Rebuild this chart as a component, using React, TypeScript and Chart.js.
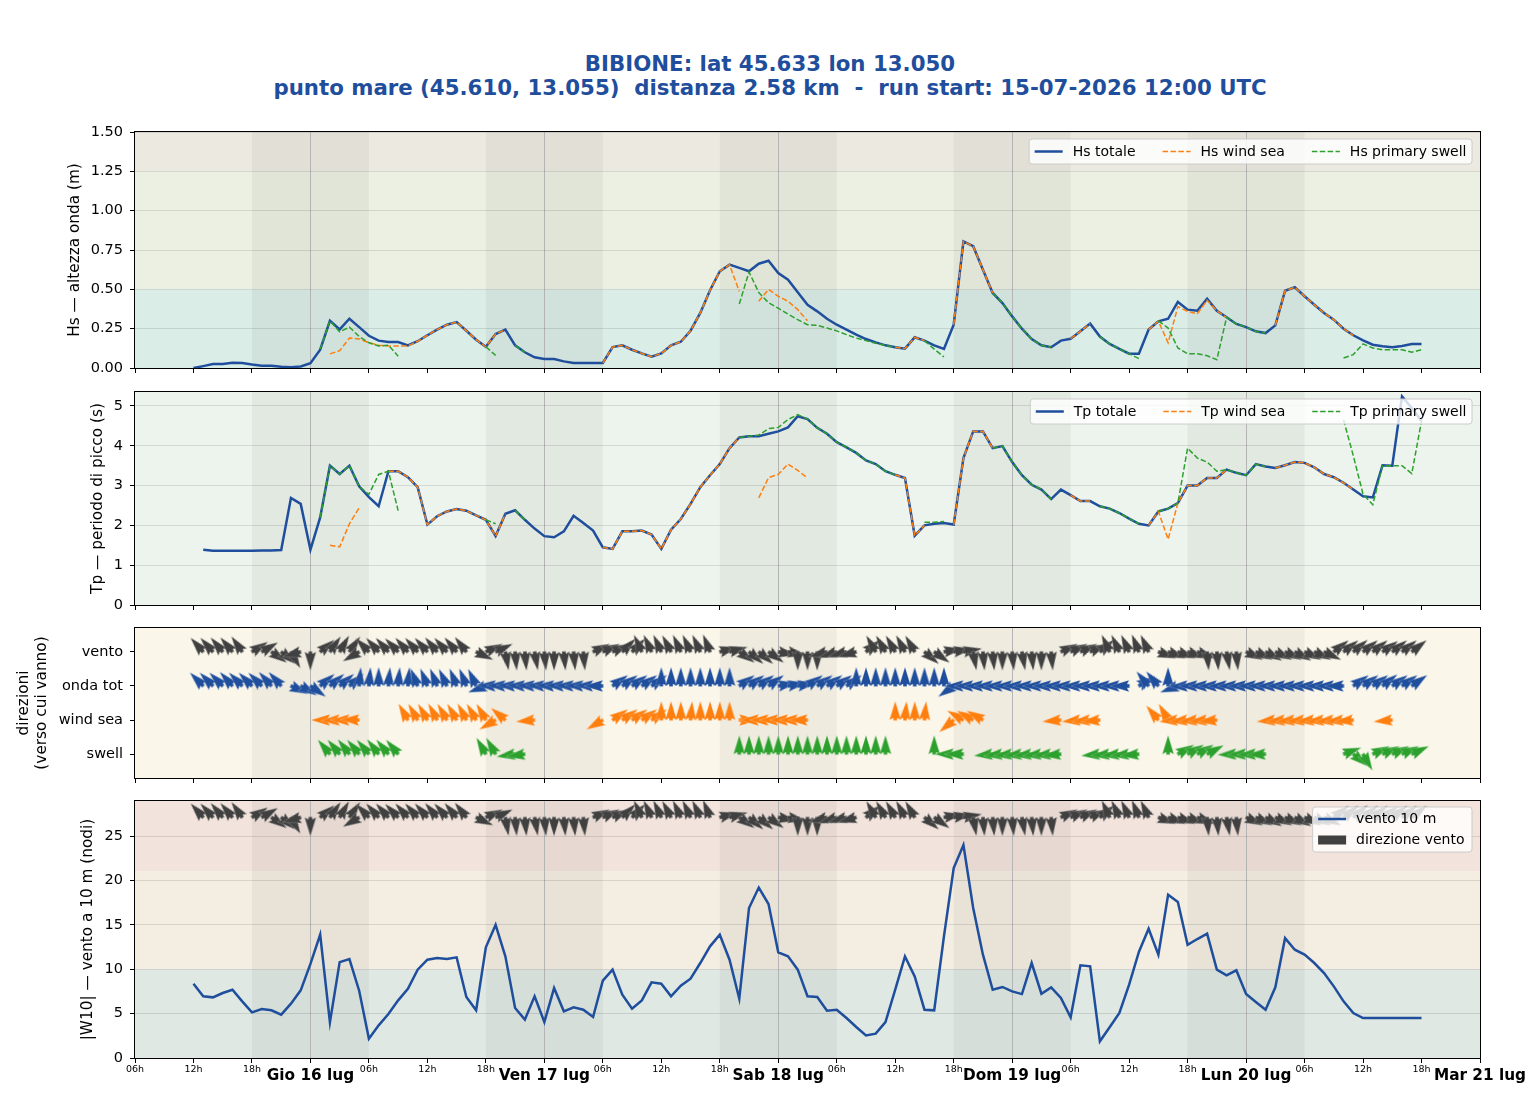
import React, { useEffect, useRef } from 'react';
import { Chart, registerables } from 'chart.js';

Chart.register(...registerables);

// ---------------------------------------------------------------------------
// Styling constants
// ---------------------------------------------------------------------------
const FONT = "'DejaVu Sans', 'Liberation Sans', sans-serif";
const BLUE = '#1f4e9c';
const ORANGE = '#ff7f0e';
const GREEN = '#2ca02c';
const DARK = '#404040';
const GRID = 'rgba(0,0,0,0.11)';
const MIDNIGHT = '#b4b4b4';
const NIGHT_SHADE = 'rgba(40,40,20,0.05)';

const _ = null;

// ---------------------------------------------------------------------------
// Time axis (hours counted from 15-07-2026 00:00 UTC), hourly run output
// ---------------------------------------------------------------------------
const FIRST_HOUR = 12; // first output step: 15-07 12:00 UTC
const X_MIN = 6;
const X_MAX = 144;
const TICK_HOURS = [6, 12, 18, 24, 30, 36, 42, 48, 54, 60, 66, 72, 78, 84, 90, 96, 102, 108, 114, 120, 126, 132, 138, 144];
const DAY_LABELS: Record<number, string> = {
  24: 'Gio 16 lug',
  48: 'Ven 17 lug',
  72: 'Sab 18 lug',
  96: 'Dom 19 lug',
  120: 'Lun 20 lug',
  144: 'Mar 21 lug',
};
const HOUR_LABELS: Record<number, string> = { 6: '06h', 12: '12h', 18: '18h' };
const NIGHTS: [number, number][] = [[18, 30], [42, 54], [66, 78], [90, 102], [114, 126]];

// ---------------------------------------------------------------------------
// Significant wave height (m)
// ---------------------------------------------------------------------------
const HS_TOTAL = [
  0.0, 0.012, 0.025, 0.025, 0.034, 0.032,
  0.022, 0.015, 0.015, 0.008, 0.005, 0.01,
  0.03, 0.116, 0.3, 0.245, 0.313, 0.26,
  0.205, 0.174, 0.165, 0.165, 0.144, 0.17,
  0.208, 0.244, 0.275, 0.292, 0.237, 0.18,
  0.135, 0.216, 0.244, 0.144, 0.1, 0.068,
  0.057, 0.057, 0.042, 0.032, 0.032, 0.032,
  0.032, 0.133, 0.144, 0.116, 0.093, 0.072,
  0.093, 0.144, 0.167, 0.237, 0.35, 0.494,
  0.615, 0.657, 0.636, 0.615, 0.663, 0.682,
  0.604, 0.561, 0.481, 0.402, 0.36, 0.313,
  0.275, 0.244, 0.212, 0.184, 0.163, 0.144,
  0.132, 0.123, 0.195, 0.174, 0.144, 0.121,
  0.275, 0.805, 0.774, 0.625, 0.477, 0.413,
  0.328, 0.25, 0.184, 0.144, 0.132, 0.174,
  0.186, 0.233, 0.282, 0.2, 0.153, 0.121,
  0.091, 0.091, 0.244, 0.297, 0.313, 0.42,
  0.371, 0.364, 0.44, 0.364, 0.322, 0.28,
  0.26, 0.233, 0.222, 0.271, 0.491, 0.513,
  0.456, 0.402, 0.35, 0.307, 0.25, 0.208,
  0.176, 0.148, 0.138, 0.132, 0.14, 0.153,
  0.153,
];

const HS_WIND_SEA = [
  _, _, _, _, _, _,
  _, _, _, _, _, _,
  _, _, 0.09, 0.11, 0.19, 0.185,
  0.16, 0.145, 0.14, 0.14, 0.14, 0.17,
  0.208, 0.244, 0.275, 0.292, 0.237, 0.18,
  0.135, 0.216, 0.244, _, _, _,
  _, _, _, _, _, _,
  0.032, 0.133, 0.144, 0.116, 0.093, 0.072,
  0.093, 0.144, 0.167, 0.237, 0.35, 0.494,
  0.615, 0.657, 0.487, _, 0.424, 0.5,
  0.456, 0.424, 0.371, 0.3, _, _,
  _, _, _, _, _, _,
  0.132, 0.123, 0.195, 0.174, _, _,
  0.275, 0.805, 0.774, 0.625, 0.477, _,
  _, _, _, _, _, _,
  0.186, 0.233, 0.282, _, _, _,
  _, _, 0.244, 0.297, 0.16, 0.39,
  0.36, 0.345, 0.43, 0.364, 0.32, _,
  _, _, _, 0.271, 0.491, 0.513,
  0.456, 0.402, 0.35, 0.307, 0.25, 0.208,
  _, _, _, _, _, _,
  _,
];

const HS_SWELL = [
  _, _, _, _, _, _,
  _, _, _, _, _, _,
  _, 0.12, 0.3, 0.23, 0.26, 0.2,
  0.16, 0.14, 0.145, 0.075, _, _,
  _, _, _, _, _, _,
  0.135, 0.08, _, 0.144, 0.1, _,
  _, _, _, _, _, _,
  _, _, _, _, _, _,
  _, _, _, _, _, _,
  _, _, 0.407, 0.61, 0.48, 0.415,
  0.38, 0.343, 0.307, 0.275, 0.271, 0.254,
  0.236, 0.212, 0.19, 0.174, 0.157, 0.144,
  0.132, _, _, 0.174, 0.12, 0.07,
  _, _, _, _, 0.477, 0.413,
  0.328, 0.25, 0.184, 0.144, 0.132, _,
  _, _, _, 0.2, 0.153, 0.121,
  0.09, 0.06, _, 0.3, 0.254, 0.127,
  0.09, 0.09, 0.078, 0.053, 0.322, 0.28,
  0.26, 0.233, 0.222, _, _, _,
  _, _, _, _, 0.064, 0.085,
  0.153, 0.127, 0.116, 0.116, 0.116, 0.1,
  0.116,
];

// ---------------------------------------------------------------------------
// Peak period (s)
// ---------------------------------------------------------------------------
const TP_TOTAL = [
  _, 1.39, 1.365, 1.36, 1.36, 1.36,
  1.365, 1.37, 1.37, 1.38, 2.69, 2.54,
  1.39, 2.2, 3.5, 3.29, 3.5, 2.98,
  2.71, 2.48, 3.36, 3.36, 3.21, 2.96,
  2.02, 2.23, 2.35, 2.41, 2.37, 2.25,
  2.14, 1.73, 2.29, 2.38, 2.14, 1.92,
  1.73, 1.7, 1.85, 2.24, 2.06, 1.87,
  1.45, 1.41, 1.85, 1.85, 1.87, 1.77,
  1.41, 1.89, 2.16, 2.54, 2.96, 3.26,
  3.54, 3.94, 4.21, 4.24, 4.24, 4.3,
  4.36, 4.46, 4.74, 4.67, 4.45, 4.3,
  4.09, 3.96, 3.82, 3.63, 3.54, 3.36,
  3.27, 3.19, 1.74, 2.0, 2.04, 2.06,
  2.02, 3.69, 4.36, 4.36, 3.94, 3.99,
  3.59, 3.26, 3.02, 2.9, 2.66, 2.9,
  2.76, 2.61, 2.61, 2.48, 2.42, 2.31,
  2.17, 2.04, 2.0, 2.35, 2.42, 2.56,
  3.0, 3.0, 3.19, 3.19, 3.4, 3.32,
  3.26, 3.54, 3.48, 3.44, 3.51, 3.59,
  3.57, 3.46, 3.29, 3.21, 3.07, 2.9,
  2.73, 2.7, 3.51, 3.5, 5.24, 4.95,
  4.62,
];

const TP_WIND_SEA = [
  _, _, _, _, _, _,
  _, _, _, _, _, _,
  _, _, 1.5, 1.46, 2.04, 2.44,
  _, _, 3.36, 3.36, 3.21, 2.96,
  2.02, 2.23, 2.35, 2.41, 2.37, 2.25,
  2.14, 1.73, 2.29, _, _, _,
  _, _, _, _, _, _,
  1.45, 1.41, 1.85, 1.85, 1.87, 1.77,
  1.41, 1.89, 2.16, 2.54, 2.96, 3.26,
  3.54, 3.94, 4.21, _, 2.69, 3.2,
  3.28, 3.54, 3.38, 3.19, _, _,
  _, _, _, _, _, _,
  3.27, 3.19, 1.74, 2.0, _, _,
  2.02, 3.69, 4.36, 4.36, 3.94, _,
  _, _, _, _, _, _,
  2.76, 2.61, 2.61, _, _, _,
  _, _, 2.0, 2.35, 1.65, 2.56,
  3.0, 3.0, 3.19, 3.19, 3.4, _,
  _, _, _, 3.44, 3.51, 3.59,
  3.57, 3.46, 3.29, 3.21, 3.07, 2.9,
  _, _, _, _, _, _,
  _,
];

const TP_SWELL = [
  _, _, _, _, _, _,
  _, _, _, _, _, _,
  _, 2.2, 3.5, 3.29, 3.5, 2.98,
  2.78, 3.28, 3.36, 2.37, _, _,
  _, _, _, _, _, _,
  2.14, 2.04, _, 2.38, 2.14, _,
  _, _, _, _, _, _,
  _, _, _, _, _, _,
  _, _, _, _, _, _,
  _, _, 4.21, 4.24, 4.27, 4.43,
  4.46, 4.66, 4.78, 4.67, 4.45, 4.3,
  4.09, 3.96, 3.82, 3.63, 3.54, 3.36,
  3.27, _, _, 2.08, 2.08, 2.1,
  _, _, _, _, 3.94, 3.99,
  3.59, 3.26, 3.02, 2.9, 2.66, _,
  _, _, _, 2.48, 2.42, 2.31,
  2.17, 2.04, _, 2.35, 2.42, 2.56,
  3.94, 3.69, 3.59, 3.36, 3.4, 3.32,
  3.26, 3.54, 3.48, _, _, _,
  _, _, _, _, 4.65, 3.75,
  2.78, 2.52, 3.5, 3.5, 3.5, 3.3,
  4.62,
];

// ---------------------------------------------------------------------------
// 10 m wind speed (knots)
// ---------------------------------------------------------------------------
const WIND_KN = [
  8.37, 6.95, 6.83, 7.32, 7.69, 6.38,
  5.14, 5.52, 5.37, 4.88, 6.12, 7.62,
  10.6, 13.9, 4.02, 10.8, 11.15, 7.58,
  2.18, 3.68, 4.95, 6.49, 7.8, 9.95,
  11.07, 11.26, 11.15, 11.34, 6.87, 5.37,
  12.47, 15.0, 11.45, 5.63, 4.32, 6.95,
  4.05, 7.88, 5.26, 5.71, 5.44, 4.62,
  8.71, 9.95, 7.13, 5.55, 6.49, 8.52,
  8.37, 6.95, 8.14, 8.93, 10.7, 12.58,
  13.89, 11.07, 6.68, 16.9, 19.2, 17.34,
  11.9, 11.45, 9.95, 6.95, 6.87, 5.33,
  5.44, 4.5, 3.49, 2.55, 2.74, 4.05,
  7.69, 11.45, 9.2, 5.44, 5.37, 13.7,
  21.4, 24.0, 16.9, 11.64, 7.69, 8.0,
  7.5, 7.2, 10.7, 7.24, 7.96, 6.76,
  4.58, 10.44, 10.33, 1.88, 3.46, 5.07,
  8.26, 11.94, 14.56, 11.64, 18.39, 17.57,
  12.76, 13.4, 14.0, 9.95, 9.31, 9.88,
  7.2, 6.31, 5.44, 7.96, 13.5, 12.2,
  11.64, 10.7, 9.57, 8.07, 6.38, 5.07,
  4.5, 4.5, 4.5, 4.5, 4.5, 4.5,
  4.5,
];

// ---------------------------------------------------------------------------
// Directions (degrees the flow is heading to: 0 = N, 90 = E, clockwise)
// ---------------------------------------------------------------------------
const DIR_WIND = [
  _, 318, 318, 320, 320, 325,
  58, 60, 125, 130, 150, 255,
  180, 50, 35, 30, 35, 240,
  316, 318, 318, 316, 318, 318,
  318, 320, 318, 320, 322, 115,
  65, 65, 170, 175, 175, 170,
  175, 180, 175, 175, 175, 65,
  65, 65, 45, 45, 335, 335,
  335, 332, 335, 335, 335, 338,
  75, 75, 125, 130, 130, 125,
  100, 100, 180, 180, 180, 255,
  252, 255, 255, 50, 330, 330,
  330, 332, 330, 130, 125, 80,
  80, 80, 170, 175, 175, 180,
  175, 170, 175, 180, 175, 65,
  65, 65, 65, 50, 335, 335,
  335, 338, 335, 110, 110, 110,
  110, 110, 175, 175, 170, 175,
  115, 115, 118, 115, 115, 118,
  115, 115, 115, 52, 52, 50,
  52, 52, 55, 52, 52, 52,
  _,
];

const DIR_WAVE = [
  _, 315, 315, 315, 318, 315,
  315, 315, 318, 318, 115, 120,
  125, 50, 50, 50, 50, 5,
  5, 0, 5, 5, 5, 338,
  338, 338, 335, 338, 338, 335,
  250, 272, 272, 272, 272, 272,
  272, 272, 272, 272, 272, 272,
  270, 55, 55, 55, 55, 55,
  0, 0, 0, 0, 0, 0,
  0, 0, 55, 55, 55, 55,
  80, 80, 80, 55, 55, 55,
  55, 55, 0, 0, 0, 0,
  0, 0, 0, 0, 0, 0,
  235, 270, 270, 270, 270, 270,
  270, 270, 270, 270, 270, 270,
  270, 270, 270, 270, 270, 270,
  270, 60, 320, 320, 0, 250,
  268, 270, 270, 270, 270, 270,
  270, 270, 270, 270, 270, 270,
  270, 270, 270, 270, 270, 55,
  55, 55, 52, 55, 55, 55,
  _,
];

const DIR_WIND_SEA = [
  _, _, _, _, _, _,
  _, _, _, _, _, _,
  _, _, 270, 268, 270, 272,
  _, _, _, _, 330, 330,
  330, 332, 330, 330, 332, 330,
  330, 240, 310, _, _, 265,
  _, _, _, _, _, _,
  240, 55, 55, 55, 55, 55,
  0, 0, 0, 5, 0, 0,
  0, 0, 90, _, 270, 270,
  270, 270, 270, 270, _, _,
  _, _, _, _, _, _,
  0, 5, 0, 5, _, _,
  230, 300, 300, 300, _, _,
  _, _, _, _, _, 265,
  _, 265, 265, 265, _, _,
  _, _, _, 320, 330, 265,
  265, 265, 265, 265, _, _,
  _, _, _, 265, 265, 265,
  265, 265, 265, 265, 265, 265,
  _, _, _, 265, _, _,
  _,
];

const DIR_SWELL = [
  _, _, _, _, _, _,
  _, _, _, _, _, _,
  _, _, 320, 320, 322, 320,
  320, 322, 320, 320, _, _,
  _, _, _, _, _, _,
  330, 330, _, 262, 262, _,
  _, _, _, _, _, _,
  _, _, _, _, _, _,
  _, _, _, _, _, _,
  _, _, 0, 0, 0, 0,
  0, 0, 0, 0, 0, 0,
  0, 0, 0, 0, 0, 0,
  _, _, _, _, 0, _,
  270, 270, _, _, 265, 265,
  265, 265, 265, 265, 265, 265,
  _, _, _, 265, 265, 265,
  265, 265, _, _, 0, 60,
  60, 60, 62, _, _, 268,
  268, 268, 268, _, _, _,
  _, _, _, _, 70, 130,
  150, 65, 65, 65, 65, 65,
  _,
];

// Direction lanes, bottom to top
const LANE_LABELS = ['swell', 'wind sea', 'onda tot', 'vento'];
const WIND_ARROW_LANE = 27.1; // knots level of the wind-direction row

// ---------------------------------------------------------------------------
// Helpers
// ---------------------------------------------------------------------------
const HOURS = HS_TOTAL.map((_v, i) => FIRST_HOUR + i);

type Band = { from: number; to: number; color: string };
type LegendEntry = { label: string; color: string; kind: 'solid' | 'dashed' | 'patch' };

// Slim arrow glyph anchored at its tail (canvas centre), pointing up before rotation.
function makeArrow(color: string): HTMLCanvasElement {
  const c = document.createElement('canvas');
  c.width = 44;
  c.height = 44;
  const g = c.getContext('2d')!;
  g.translate(22, 22);
  g.beginPath();
  g.moveTo(0, -19);
  g.lineTo(5.8, 0);
  g.lineTo(1.9, -1.9);
  g.lineTo(1.9, 0.4);
  g.lineTo(-1.9, 0.4);
  g.lineTo(-1.9, -1.9);
  g.lineTo(-5.8, 0);
  g.closePath();
  g.fillStyle = color;
  g.fill();
  g.strokeStyle = 'rgba(255,255,255,0.3)';
  g.lineWidth = 0.6;
  g.lineJoin = 'round';
  g.stroke();
  return c;
}

function backgroundPlugin(bands: Band[]) {
  return {
    id: 'panelBackground',
    beforeDraw(chart: any) {
      const { ctx, chartArea: a, scales } = chart;
      const xs = scales.x;
      const ys = scales.y;
      ctx.save();
      for (const b of bands) {
        const p1 = ys.getPixelForValue(b.to);
        const p2 = ys.getPixelForValue(b.from);
        const t = Math.max(a.top, Math.min(p1, p2));
        const bt = Math.min(a.bottom, Math.max(p1, p2));
        ctx.fillStyle = b.color;
        ctx.fillRect(a.left, t, a.right - a.left, bt - t);
      }
      ctx.fillStyle = NIGHT_SHADE;
      for (const [s, e] of NIGHTS) {
        const x1 = xs.getPixelForValue(s);
        const x2 = xs.getPixelForValue(e);
        ctx.fillRect(x1, a.top, x2 - x1, a.bottom - a.top);
      }
      ctx.restore();
    },
  };
}

const framePlugin = {
  id: 'panelFrame',
  afterDatasetsDraw(chart: any) {
    const { ctx, chartArea: a } = chart;
    ctx.save();
    ctx.strokeStyle = '#000';
    ctx.lineWidth = 1;
    ctx.strokeRect(a.left - 0.5, a.top - 0.5, a.right - a.left + 1, a.bottom - a.top + 1);
    ctx.restore();
  },
};

function legendPlugin(entries: LegendEntry[], vertical: boolean) {
  return {
    id: 'panelLegend',
    afterDraw(chart: any) {
      const { ctx, chartArea: a } = chart;
      const fs = 14;
      const handle = 28;
      const hpad = 10;
      const colGap = 27;
      const pad = 5.5;
      const rowH = 21;
      ctx.save();
      ctx.font = `${fs}px ${FONT}`;
      const widths = entries.map((e) => ctx.measureText(e.label).width);
      let w: number;
      let h: number;
      let top: number;
      if (vertical) {
        w = handle + hpad + Math.max(...widths) + 2 * pad + 2;
        h = 45;
        top = a.top + 6;
      } else {
        w = widths.reduce((s, tw) => s + handle + hpad + tw, 0) + colGap * (entries.length - 1) + 2 * pad;
        h = 25;
        top = a.top + 7;
      }
      const right = a.right - 8;
      const left = right - w;
      ctx.beginPath();
      ctx.roundRect(left, top, w, h, 3);
      ctx.fillStyle = 'rgba(255,255,255,0.8)';
      ctx.fill();
      ctx.strokeStyle = '#cccccc';
      ctx.lineWidth = 1;
      ctx.stroke();

      let x = left + pad;
      let cy = top + 12.5;
      entries.forEach((e, i) => {
        if (vertical) {
          x = left + pad;
          cy = top + 12 + i * rowH;
        }
        if (e.kind === 'patch') {
          ctx.fillStyle = e.color;
          ctx.fillRect(x, cy - 4.5, handle, 9);
        } else {
          ctx.beginPath();
          ctx.strokeStyle = e.color;
          ctx.lineWidth = e.kind === 'solid' ? 2.5 : 1.5;
          ctx.setLineDash(e.kind === 'dashed' ? [5.5, 2.4] : []);
          ctx.moveTo(x, cy);
          ctx.lineTo(x + handle, cy);
          ctx.stroke();
          ctx.setLineDash([]);
        }
        ctx.fillStyle = '#000';
        ctx.textAlign = 'left';
        ctx.textBaseline = 'middle';
        ctx.fillText(e.label, x + handle + hpad, cy + 0.5);
        if (!vertical) x += handle + hpad + widths[i] + colGap;
      });
      ctx.restore();
    },
  };
}

function xScale(withLabels: boolean, axisHeight: number) {
  return {
    type: 'linear',
    min: X_MIN,
    max: X_MAX,
    afterBuildTicks: (s: any) => {
      s.ticks = TICK_HOURS.map((v) => ({ value: v, major: v % 24 === 0 }));
    },
    afterFit: (s: any) => {
      s.height = axisHeight;
      s.paddingLeft = 0;
      s.paddingRight = 0;
    },
    border: { display: false },
    grid: {
      drawTicks: true,
      tickLength: 5,
      tickColor: '#000',
      lineWidth: 1,
      color: (c: any) =>
        c.tick && c.tick.value % 24 === 0 && c.tick.value > X_MIN && c.tick.value < X_MAX ? MIDNIGHT : 'rgba(0,0,0,0)',
    },
    ticks: withLabels
      ? {
          display: true,
          autoSkip: false,
          maxRotation: 0,
          minRotation: 0,
          padding: 1,
          color: '#000',
          callback: (v: number) => DAY_LABELS[v] ?? HOUR_LABELS[v % 24] ?? '',
          font: (c: any) =>
            c.tick && c.tick.value % 24 === 0
              ? { family: FONT, size: 15.3, weight: 'bold', lineHeight: 1.53 }
              : { family: FONT, size: 9.5, lineHeight: 1.2 },
        }
      : { display: false },
  };
}

function yScale(cfg: {
  min: number;
  max: number;
  ticks: number[];
  fmt: (v: number) => string;
  title: string | string[];
  titleCenter: number;
  gridLines: boolean;
}) {
  return {
    type: 'linear',
    position: 'left',
    min: cfg.min,
    max: cfg.max,
    afterBuildTicks: (s: any) => {
      s.ticks = cfg.ticks.map((v) => ({ value: v }));
    },
    afterFit: (s: any) => {
      s.width = 135;
      s.paddingTop = 0;
      s.paddingBottom = 0;
    },
    border: { display: false },
    grid: {
      drawOnChartArea: cfg.gridLines,
      color: GRID,
      tickColor: '#000',
      tickLength: 5,
      lineWidth: 1,
    },
    ticks: {
      color: '#000',
      padding: 7,
      font: { family: FONT, size: 14.5 },
      callback: (v: number) => cfg.fmt(v),
    },
    title: {
      display: true,
      text: cfg.title,
      color: '#000',
      font: { family: FONT, size: 15.3, lineHeight: 1.15 },
      padding: { top: cfg.titleCenter - 8.8, bottom: 0 },
    },
  };
}

function lineDataset(label: string, values: (number | null)[], color: string, dashed: boolean, order: number) {
  return {
    type: 'line',
    label,
    data: HOURS.map((h, i) => ({ x: h, y: values[i] ?? null })),
    borderColor: color,
    backgroundColor: color,
    borderWidth: dashed ? 1.5 : 2.5,
    borderDash: dashed ? [5.5, 2.4] : [],
    pointRadius: 0,
    tension: 0,
    spanGaps: false,
    fill: false,
    order,
  };
}

function arrowDataset(label: string, dirs: (number | null)[], lane: number, img: HTMLCanvasElement, order: number) {
  const pts: { x: number; y: number; r: number }[] = [];
  HOURS.forEach((h, i) => {
    const d = dirs[i];
    if (d !== null && d !== undefined) pts.push({ x: h, y: lane, r: d });
  });
  return {
    type: 'line',
    label,
    data: pts,
    showLine: false,
    pointStyle: img,
    pointRadius: 1,
    pointRotation: (c: any) => (c.raw ? c.raw.r : 0),
    clip: false,
    order,
  };
}

function baseOptions(padTop: number, scales: any) {
  return {
    responsive: false,
    animation: false,
    devicePixelRatio: 1,
    events: [],
    layout: { autoPadding: false, padding: { left: 0, right: 60, top: padTop, bottom: 0 } },
    plugins: {
      legend: { display: false },
      tooltip: { enabled: false },
      title: { display: false },
    },
    scales,
  };
}

// ---------------------------------------------------------------------------
// Panel configs
// ---------------------------------------------------------------------------
function hsConfig() {
  return {
    type: 'line',
    data: {
      datasets: [
        lineDataset('Hs primary swell', HS_SWELL, GREEN, true, 1),
        lineDataset('Hs wind sea', HS_WIND_SEA, ORANGE, true, 2),
        lineDataset('Hs totale', HS_TOTAL, BLUE, false, 3),
      ],
    },
    options: baseOptions(12, {
      x: xScale(false, 12),
      y: yScale({
        min: 0,
        max: 1.5,
        ticks: [0, 0.25, 0.5, 0.75, 1.0, 1.25, 1.5],
        fmt: (v) => v.toFixed(2),
        title: 'Hs — altezza onda (m)',
        titleCenter: 75,
        gridLines: true,
      }),
    }),
    plugins: [
      backgroundPlugin([
        { from: 0, to: 0.5, color: '#dbede7' },
        { from: 0.5, to: 1.25, color: '#ebf0e3' },
        { from: 1.25, to: 1.5, color: '#ece9e1' },
      ]),
      framePlugin,
      legendPlugin(
        [
          { label: 'Hs totale', color: BLUE, kind: 'solid' },
          { label: 'Hs wind sea', color: ORANGE, kind: 'dashed' },
          { label: 'Hs primary swell', color: GREEN, kind: 'dashed' },
        ],
        false
      ),
    ],
  };
}

function tpConfig() {
  return {
    type: 'line',
    data: {
      datasets: [
        lineDataset('Tp primary swell', TP_SWELL, GREEN, true, 1),
        lineDataset('Tp wind sea', TP_WIND_SEA, ORANGE, true, 2),
        lineDataset('Tp totale', TP_TOTAL, BLUE, false, 3),
      ],
    },
    options: baseOptions(7, {
      x: xScale(false, 10),
      y: yScale({
        min: 0,
        max: 5.35,
        ticks: [0, 1, 2, 3, 4, 5],
        fmt: (v) => String(v),
        title: 'Tp — periodo di picco (s)',
        titleCenter: 98,
        gridLines: true,
      }),
    }),
    plugins: [
      backgroundPlugin([{ from: 0, to: 5.35, color: '#edf4ed' }]),
      framePlugin,
      legendPlugin(
        [
          { label: 'Tp totale', color: BLUE, kind: 'solid' },
          { label: 'Tp wind sea', color: ORANGE, kind: 'dashed' },
          { label: 'Tp primary swell', color: GREEN, kind: 'dashed' },
        ],
        false
      ),
    ],
  };
}

function dirConfig() {
  return {
    type: 'line',
    data: {
      datasets: [
        arrowDataset('vento', DIR_WIND, 3, makeArrow(DARK), 1),
        arrowDataset('onda tot', DIR_WAVE, 2, makeArrow(BLUE), 2),
        arrowDataset('wind sea', DIR_WIND_SEA, 1, makeArrow(ORANGE), 3),
        arrowDataset('swell', DIR_SWELL, 0, makeArrow(GREEN), 4),
      ],
    },
    options: baseOptions(8, {
      x: xScale(false, 12),
      y: yScale({
        min: -0.7,
        max: 3.7,
        ticks: [0, 1, 2, 3],
        fmt: (v) => LANE_LABELS[v] ?? '',
        title: ['direzioni', '(verso cui vanno)'],
        titleCenter: 24,
        gridLines: false,
      }),
    }),
    plugins: [backgroundPlugin([{ from: -0.7, to: 3.7, color: '#faf6ea' }]), framePlugin],
  };
}

function windConfig() {
  return {
    type: 'line',
    data: {
      datasets: [
        lineDataset('vento 10 m', WIND_KN, BLUE, false, 1),
        arrowDataset('direzione vento', DIR_WIND, WIND_ARROW_LANE, makeArrow(DARK), 2),
      ],
    },
    options: baseOptions(6, {
      x: xScale(true, 42),
      y: yScale({
        min: 0,
        max: 28.95,
        ticks: [0, 5, 10, 15, 20, 25],
        fmt: (v) => String(v),
        title: '|W10| — vento a 10 m (nodi)',
        titleCenter: 88,
        gridLines: true,
      }),
    }),
    plugins: [
      backgroundPlugin([
        { from: 0, to: 10, color: '#dfe8e3' },
        { from: 10, to: 21, color: '#f3ede2' },
        { from: 21, to: 28.95, color: '#f2e3dc' },
      ]),
      framePlugin,
      legendPlugin(
        [
          { label: 'vento 10 m', color: BLUE, kind: 'solid' },
          { label: 'direzione vento', color: DARK, kind: 'patch' },
        ],
        true
      ),
    ],
  };
}

// ---------------------------------------------------------------------------
// Components
// ---------------------------------------------------------------------------
function Panel({ top, height, build }: { top: number; height: number; build: () => any }) {
  const ref = useRef<HTMLCanvasElement>(null);
  useEffect(() => {
    if (!ref.current) return;
    const chart = new Chart(ref.current, build());
    return () => chart.destroy();
  }, [build]);
  return (
    <canvas
      ref={ref}
      width={1540}
      height={height}
      style={{ position: 'absolute', left: 0, top, width: 1540, height }}
    />
  );
}

export default function App() {
  return (
    <div style={{ position: 'absolute', left: 0, top: 0, width: 1540, height: 1100, background: '#fff' }}>
      <div
        style={{
          position: 'absolute',
          left: 0,
          top: 52,
          width: 1540,
          textAlign: 'center',
          color: BLUE,
          fontFamily: FONT,
          fontWeight: 'bold',
          fontSize: 21.3,
          lineHeight: '24px',
          whiteSpace: 'pre',
        }}
      >
        {'BIBIONE: lat 45.633 lon 13.050\npunto mare (45.610, 13.055)  distanza 2.58 km  -  run start: 15-07-2026 12:00 UTC'}
      </div>
      <Panel top={120} height={260} build={hsConfig} />
      <Panel top={385} height={230} build={tpConfig} />
      <Panel top={620} height={170} build={dirConfig} />
      <Panel top={795} height={305} build={windConfig} />
    </div>
  );
}
